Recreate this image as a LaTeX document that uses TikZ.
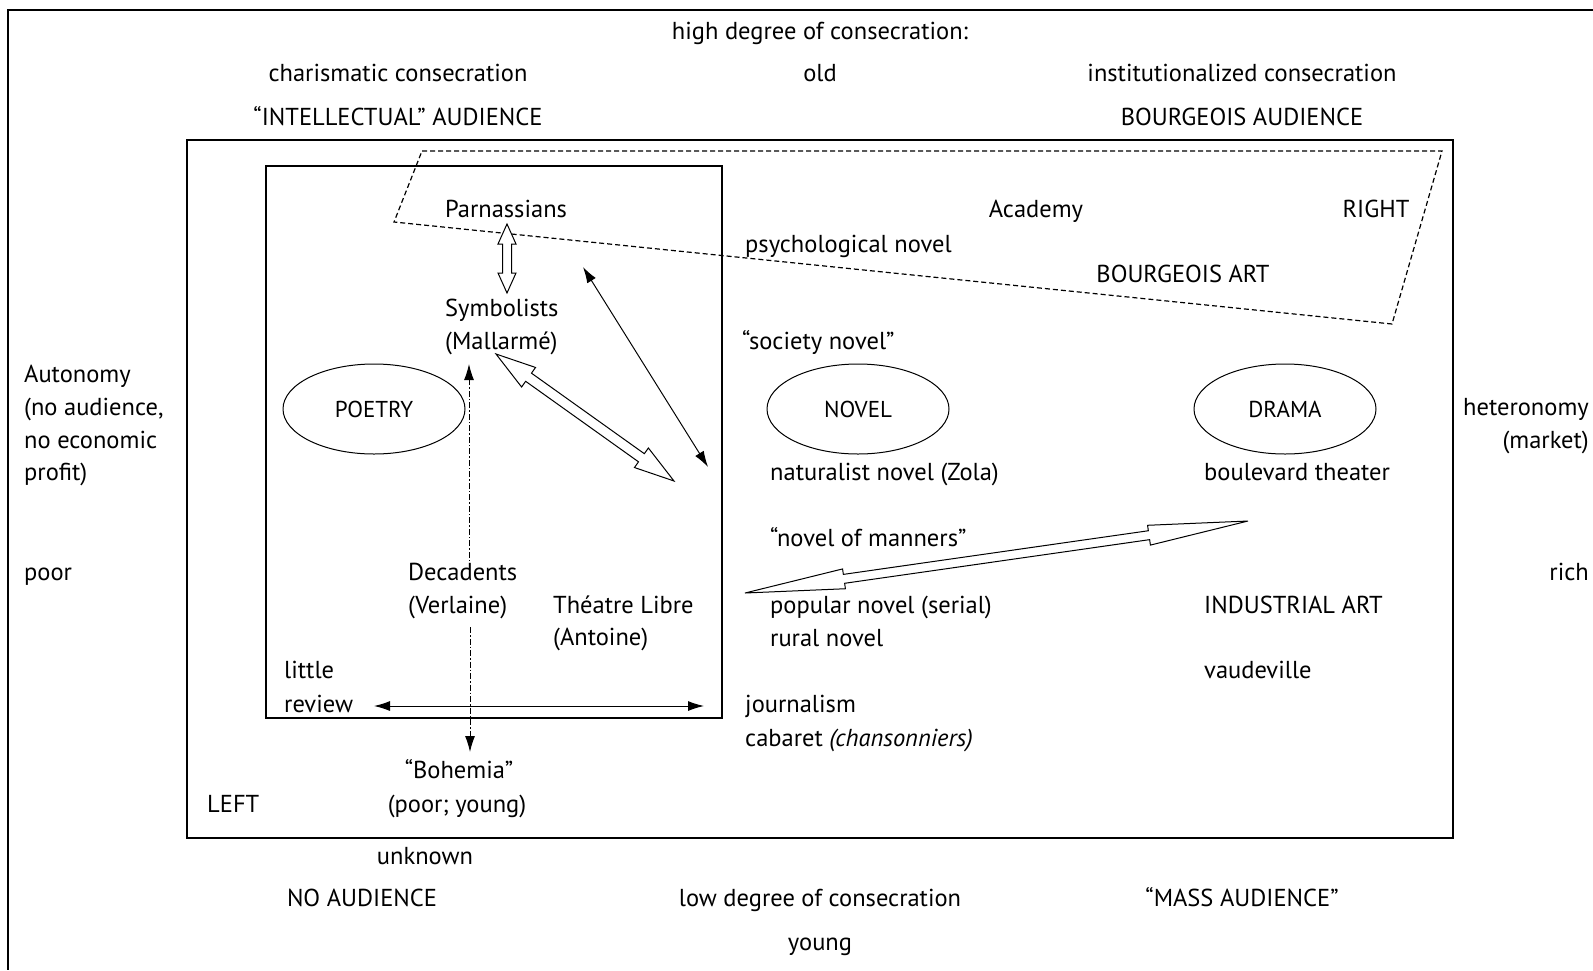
\documentclass[tikz,border=0pt]{standalone}
\usepackage{fontspec}
\setmainfont{PT Sans}
\usepackage{tikz}
\usetikzlibrary{positioning}
\usetikzlibrary{arrows.meta,shapes}
\usetikzlibrary{calc}
\tikzstyle{txt}=[inner sep=0pt, text height=21pt, text depth=4pt, font=\fontsize{24.5}{28}\selectfont]
\tikzstyle{genre}=[ellipse, draw, line width=1pt, minimum width=182pt, minimum height=90pt, inner sep=0pt, font=\fontsize{23}{26}\selectfont]
\tikzstyle{frame}=[draw, line width=1.4pt]
\tikzstyle{trapez}=[draw, line width=1.2pt, dash pattern=on 5pt off 3pt]
\tikzstyle{thinarrow} = [draw, line width=1pt, {Latex[length=16pt,width=10pt]}-{Latex[length=16pt,width=10pt]}]
\tikzstyle{dotarrow} = [draw, line width=1pt, dash pattern=on 6pt off 2pt on 1.5pt off 2pt, -{Latex[length=16pt,width=10pt]}]

% hollow double arrow: from, to, shaft half width, head half width, head length
\newcommand{\hollowarrow}[5]{%
  \path let \p1=($(#2)-(#1)$) in \pgfextra{%
    \pgfmathsetmacro{\harang}{atan2(\y1,\x1)}%
    \pgfmathsetmacro{\harlen}{veclen(\x1,\y1)}%
    \xdef\harang{\harang}\xdef\harlen{\harlen}};
  \begin{scope}[shift={(#1)}, x=1pt, y=1pt, rotate=\harang]
    \draw[fill=white, line width=1pt] (0,0) -- (#5,#4) -- (#5,#3) -- (\harlen-#5,#3) -- (\harlen-#5,#4) -- (\harlen,0)
      -- (\harlen-#5,-#4) -- (\harlen-#5,-#3) -- (#5,-#3) -- (#5,-#4) -- cycle;
  \end{scope}}

\begin{document}
\begin{tikzpicture}[x=1pt, y=-1pt]
\useasboundingbox (0,0) rectangle (1593,970);

% frames
\draw[frame] (1593,10) -- (8,10) -- (8,970);
\draw[frame] (187,140) rectangle (1453,838);
\draw[frame] (266,166) rectangle (722,718);

% dashed region
\coordinate (ta) at (422,151);
\coordinate (tb) at (1442,151);
\coordinate (tc) at (1392,324);
\coordinate (td) at (394,222);
\path[trapez] (ta) -- (tb) -- (tc) -- (td) -- cycle;

% Label top and bottom (centred)
\foreach \pos/\name/\label in {{(820,31)/high/high degree of consecration:}, {(398,73)/charis/charismatic consecration},
    {(820,73)/old/old}, {(1242,73)/instit/institutionalized consecration}, {(398,117)/intell/“INTELLECTUAL” AUDIENCE},
    {(1242,117)/bourgaud/BOURGEOIS AUDIENCE}, {(506,209)/parn/Parnassians}, {(1036,209)/acad/Academy},
    {(1376,209)/right/RIGHT}, {(1183,274)/bourgart/BOURGEOIS ART}, {(459,770)/boh/“Bohemia”},
    {(457,804)/bohpoor/(poor; young)}, {(425,856)/unknown/unknown}, {(362,898)/noaud/NO AUDIENCE},
    {(820,898)/low/low degree of consecration}, {(1242,898)/mass/“MASS AUDIENCE”}, {(820,942)/young/young}}
    \node[txt] (\name) at \pos {\label};

% Label left aligned
\foreach \pos/\name/\label in {{(24,374)/aut/Autonomy}, {(24,407)/autb/{(no audience,}}, {(24,440)/autc/no economic},
    {(24,472)/autd/profit)}, {(24,572)/poor/poor}, {(745,244)/psych/psychological novel},
    {(445,308)/symb/Symbolists}, {(445,341)/mall/(Mallarmé)}, {(742,341)/society/“society novel”},
    {(770,472)/natur/naturalist novel (Zola)}, {(1204,472)/boul/boulevard theater},
    {(770,538)/manners/“novel of manners”}, {(408,572)/dec/Decadents}, {(408,605)/verl/(Verlaine)},
    {(553,605)/theat/Théatre Libre}, {(553,637)/anto/(Antoine)}, {(770,605)/popul/popular novel (serial)},
    {(770,638)/rural/rural novel}, {(1204,605)/indus/INDUSTRIAL ART}, {(1204,670)/vaud/vaudeville},
    {(284,670)/little/little}, {(284,704)/review/review}, {(745,704)/journ/journalism},
    {(745,738)/cab/cabaret \textit{(chansonniers)}}, {(207,804)/left/LEFT}}
    \node[txt, anchor=west] (\name) at \pos {\label};

% Label right aligned
\foreach \pos/\name/\label in {{(1589,407)/heter/heteronomy}, {(1589,440)/market/(market)}, {(1589,572)/rich/rich}}
    \node[txt, anchor=east] (\name) at \pos {\label};

% genres
\node[genre] (poetry) at (374,409) {POETRY};
\node[genre] (novel) at (858,409) {NOVEL};
\node[genre] (drama) at (1285,409) {DRAMA};

% arrow ends
\coordinate (a1) at (507,224);  \coordinate (a2) at (507,293);
\coordinate (b1) at (496,354);  \coordinate (b2) at (674,481);
\coordinate (c1) at (583,267);  \coordinate (c2) at (708,467);
\coordinate (d1) at (469,569);  \coordinate (d2) at (469,364);
\coordinate (e1) at (470,627);  \coordinate (e2) at (470,752);
\coordinate (f1) at (374,706);  \coordinate (f2) at (704,706);
\coordinate (g1) at (745,593);  \coordinate (g2) at (1248,521);

% arrows
\hollowarrow{a1}{a2}{4.5}{9}{20}
\hollowarrow{b1}{b2}{5}{12}{40}
\hollowarrow{g1}{g2}{4.5}{10}{100}
\path[thinarrow] (c1) -- (c2);
\path[thinarrow] (f1) -- (f2);
\path[dotarrow] (d1) -- (d2);
\path[dotarrow] (e1) -- (e2);

\end{tikzpicture}
\end{document}
